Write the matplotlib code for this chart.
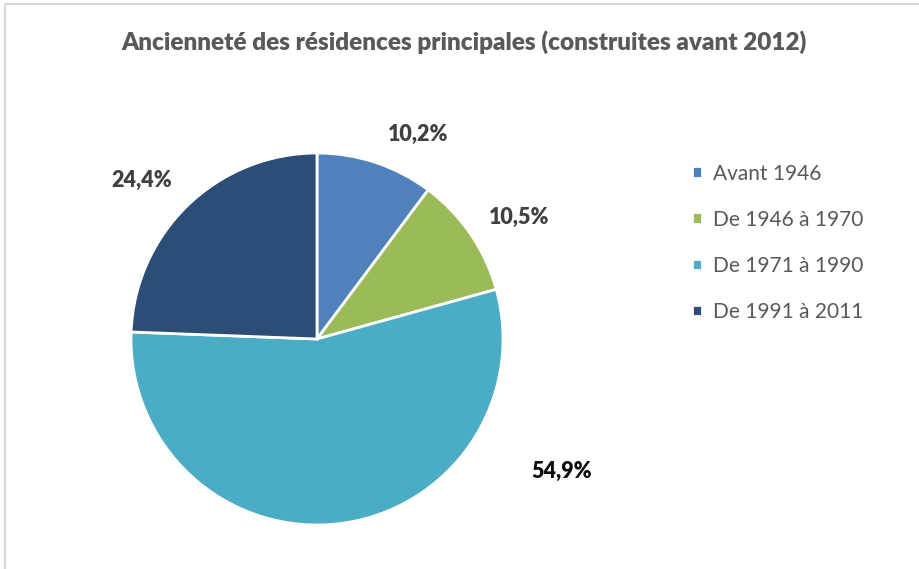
import matplotlib.pyplot as plt
from matplotlib.patches import Rectangle

categories = ['Avant 1946', 'De 1946 à 1970', 'De 1971 à 1990', 'De 1991 à 2011']
values = [10.2, 10.5, 54.9, 24.4]
colors = ['#4F81BD', '#9BBB59', '#4BACC6', '#2C4D75']
label_colors = ['#404040', '#404040', '#0D0D0D', '#404040']
# label placement (pie units) as Excel "best fit" put them
label_pos = [(0.545, 1.10), (1.086, 0.656), (1.317, -0.710), (-0.941, 0.852)]

plt.rcParams['font.family'] = ['Lato', 'DejaVu Sans']

fig = plt.figure(figsize=(9.2, 5.69), dpi=100)
fig.patches.append(Rectangle((5 / 920, -0.01), 1.0, 1 - 4 / 569 + 0.01,
                             transform=fig.transFigure, fill=False,
                             edgecolor='#D9D9D9', linewidth=1.5))

ax = fig.add_axes([131 / 920, 44 / 569, 372 / 920, 372 / 569])
wedges, _ = ax.pie(values, colors=colors, startangle=90, counterclock=False,
                   radius=1, wedgeprops=dict(edgecolor='white', linewidth=2))
ax.set_xlim(-1, 1)
ax.set_ylim(-1, 1)
ax.set_aspect('auto')

for v, (x, y), c in zip(values, label_pos, label_colors):
    ax.text(x, y, f'{v:.1f}%'.replace('.', ','), ha='center', va='center',
            fontsize=15.5, fontweight='heavy', color=c, clip_on=False)

fig.text(464 / 920, 1 - 42 / 569,
         'Ancienneté des résidences principales (construites avant 2012)',
         ha='center', va='center', fontsize=17.5, fontweight='heavy', color='#595959')

fig.legend(wedges, categories, loc='upper left', bbox_to_anchor=(673 / 920, 1 - 145 / 569),
           frameon=False, fontsize=15, labelcolor='#595959',
           handlelength=0.5, handleheight=0.5, handletextpad=0.5, labelspacing=1.25)

fig.savefig('out.png', dpi=100)
